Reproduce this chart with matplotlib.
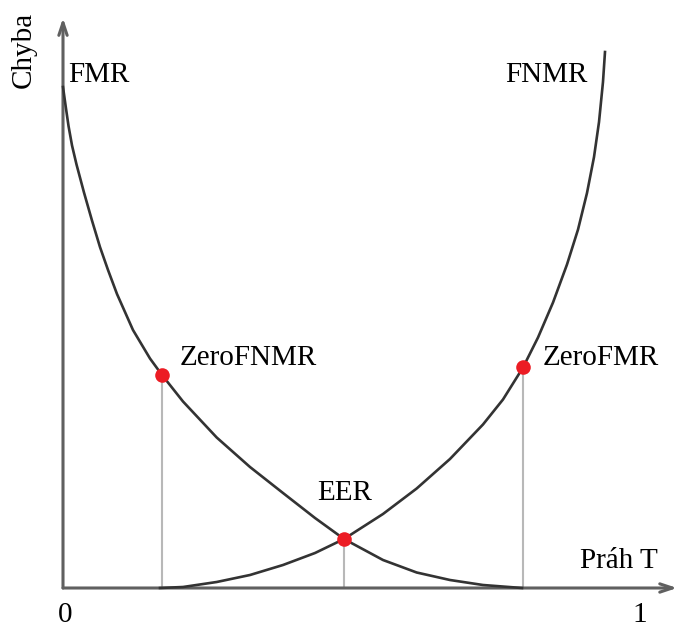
import matplotlib.pyplot as plt

# FMR / FNMR curves (threshold T on x, error on y)
fmr_t = [0.0, 0.0052, 0.0096, 0.0157, 0.0235, 0.0365, 0.0504, 0.0643, 0.0783,
         0.0939, 0.1217, 0.1513, 0.1722, 0.2087, 0.2673, 0.3252, 0.3826,
         0.4383, 0.4887, 0.5565, 0.6151, 0.6730, 0.7304, 0.7983]
fmr_err = [1.002, 0.959, 0.924, 0.885, 0.847, 0.791, 0.735, 0.682, 0.636,
           0.588, 0.516, 0.459, 0.426, 0.373, 0.301, 0.242, 0.190,
           0.140, 0.098, 0.056, 0.031, 0.016, 0.006, 0.0]

fnmr_t = [0.1687, 0.2087, 0.2673, 0.3252, 0.3826, 0.4383, 0.4887, 0.5565,
          0.6151, 0.6730, 0.7304, 0.7652, 0.8000, 0.8261, 0.8522, 0.8765,
          0.8957, 0.9113, 0.9235, 0.9322, 0.9391, 0.9426]
fnmr_err = [0.0, 0.002, 0.012, 0.026, 0.046, 0.070, 0.098, 0.148,
            0.199, 0.258, 0.327, 0.377, 0.441, 0.501, 0.571, 0.647,
            0.717, 0.790, 0.862, 0.932, 1.012, 1.072]

# marked points
point_names = ['ZeroFNMR', 'EER', 'ZeroFMR']
point_t = [0.1722, 0.4887, 0.8000]
point_err = [0.426, 0.098, 0.443]

serif = 'Liberation Serif'
fs = 21

fig = plt.figure(figsize=(6.78, 6.28), dpi=100)
ax = fig.add_axes([0, 0, 1, 1])
ax.set_xlim(-63 / 575, 615 / 575)
ax.set_ylim(-40 / 500, 588 / 500)
ax.axis('off')

# axes with arrows
arrow = dict(arrowstyle='->,head_length=0.9,head_width=0.3', lw=2.2,
             color='#606060', shrinkA=0, shrinkB=0)
ax.annotate('', xy=(0, 1.14), xytext=(0, 0), arrowprops=arrow)
ax.annotate('', xy=(1.068, 0), xytext=(0, 0), arrowprops=arrow)

# drop lines to the x axis
for t, e in zip(point_t, point_err):
    ax.plot([t, t], [0, e], color='#b8b8b8', lw=1.5, zorder=2)

ax.plot(fmr_t, fmr_err, color='#333333', lw=1.9, zorder=3)
ax.plot(fnmr_t, fnmr_err, color='#333333', lw=1.9, zorder=3)
ax.plot(point_t, point_err, 'o', color='#ec1c24', ms=10.5, mec='none', zorder=4)

# labels
ax.text(0.009, 1.012, 'FMR', fontsize=fs, family=serif)
ax.text(0.769, 1.012, 'FNMR', fontsize=fs, family=serif)
ax.text(0.2035, 0.446, point_names[0], fontsize=fs, family=serif)
ax.text(0.4417, 0.176, point_names[1], fontsize=fs, family=serif)
ax.text(0.8348, 0.446, point_names[2], fontsize=fs, family=serif)
ax.text(0.899, 0.04, 'Práh T', fontsize=fs, family=serif)
ax.text(0.0035, -0.068, '0', fontsize=fs, family=serif, ha='center')
ax.text(1.0035, -0.068, '1', fontsize=fs, family=serif, ha='center')
ax.text(-0.068, 1.076, 'Chyba', fontsize=fs, family=serif, rotation=90,
        ha='center', va='center')

fig.savefig('out.png', dpi=100)
